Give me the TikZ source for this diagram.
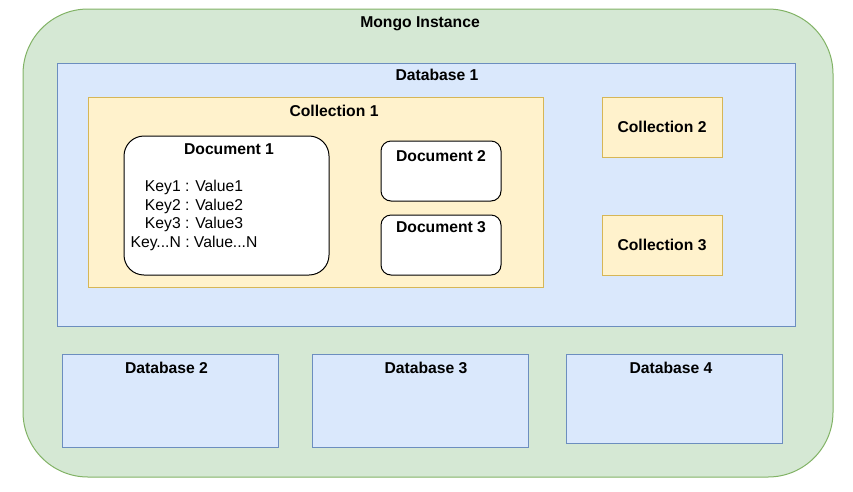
\documentclass[tikz,border=0pt]{standalone}
\usepackage{fontspec}
\setmainfont{Liberation Sans}
\usetikzlibrary{positioning}

\definecolor{greenfill}{HTML}{D5E8D4}
\definecolor{greendraw}{HTML}{82B366}
\definecolor{bluefill}{HTML}{DAE8FC}
\definecolor{bluedraw}{HTML}{6C8EBF}
\definecolor{yellowfill}{HTML}{FFF2CC}
\definecolor{yellowdraw}{HTML}{D6B656}

\begin{document}
\begin{tikzpicture}
            [x=1pt, y=-1pt,
            font=\fontsize{15.7}{18.7}\selectfont,
            box/.style={
                rectangle,
                draw,
                line width=1pt,
                inner sep=0pt,
                anchor=center
            },
            instance/.style={box, draw=greendraw, fill=greenfill, rounded corners=65pt},
            database/.style={box, draw=bluedraw, fill=bluefill},
            collection/.style={box, draw=yellowdraw, fill=yellowfill},
            document/.style={box, draw=black, fill=white},
            title/.style={font=\fontsize{15.7}{18.7}\selectfont\bfseries, inner sep=4pt, anchor=north}
            ]
            \useasboundingbox (0,0) rectangle (853,491);

            % Mongo instance
            \node[instance, minimum width=810pt, minimum height=468pt] (mongo) at (428,243) {};
            \node[title, below=4pt of mongo.north, xshift=-8pt] (mongo title) {Mongo Instance};

            % Database 1 with its collections
            \node[database, minimum width=738pt, minimum height=263pt] (db1) at (426,194.5) {};
            \node[title, below=2pt of db1.north, xshift=11pt] (db1 title) {Database 1};

            \node[collection, minimum width=455pt, minimum height=190pt] (col1) at (315.5,192) {};
            \node[title, below=4pt of col1.north, xshift=18.5pt] (col1 title) {Collection 1};

            \node[document, rounded corners=20pt, minimum width=205pt, minimum height=139pt] (doc1) at (226.5,205.5) {};
            \node[title, below=4pt of doc1.north, xshift=2.5pt] (doc1 title) {Document 1};
            \node[align=center, inner sep=0pt] (doc1 keys) at (194,215.5) {Key1 : Value1\\Key2 : Value2\\Key3 : Value3\\Key...N : Value...N};

            \foreach \pos/\y/\gap in {2/171/6pt, 3/245/3pt}{
                \node[document, rounded corners=10pt, minimum width=120pt, minimum height=60pt] (doc\pos) at (441,\y) {};
                \node[title, below=\gap of doc\pos.north] (doc\pos title) {Document \pos};
            }

            \foreach \pos/\y in {2/127, 3/245}{
                \node[collection, minimum width=120pt, minimum height=60pt] (col\pos) at (662,\y) {\bfseries Collection \pos};
            }

            % Other databases
            \foreach \pos/\x/\y/\h/\dx in {2/170/400.5/93/-3.5pt, 3/420/400.5/93/6pt, 4/674/398.5/89/-3pt}{
                \node[database, minimum width=216pt, minimum height=\h pt] (db\pos) at (\x,\y) {};
                \node[title, below=4pt of db\pos.north, xshift=\dx] (db\pos title) {Database \pos};
            }
\end{tikzpicture}
\end{document}
